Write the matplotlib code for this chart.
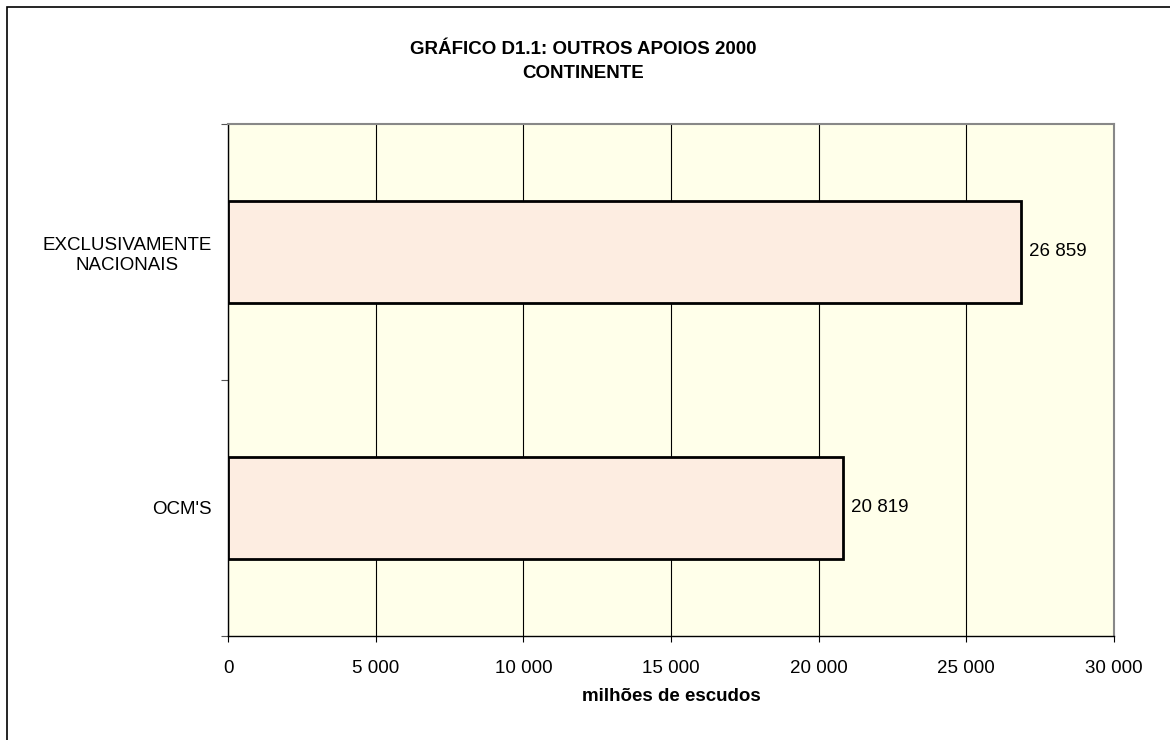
import matplotlib.pyplot as plt
from matplotlib.patches import Rectangle
from matplotlib.ticker import FuncFormatter, FixedLocator

plt.rcParams['font.family'] = ['Liberation Sans', 'DejaVu Sans']

categories = ["OCM'S", "EXCLUSIVAMENTE\nNACIONAIS"]
values = [20819, 26859]
xticks = [0, 5000, 10000, 15000, 20000, 25000, 30000]

FS = 13.5

fig = plt.figure(figsize=(11.7, 7.4), dpi=100)
ax = fig.add_axes([228 / 1170, 1 - 636 / 740, 886 / 1170, 512 / 740])

# chart frame around the whole figure (only top/left edges fall inside)
fig.patches.append(Rectangle((7 / 1170, -0.1), 1.2, (733 / 740) + 0.1,
                             transform=fig.transFigure, fill=False,
                             edgecolor='black', linewidth=1.2))

ax.set_facecolor('#FFFFEA')
ypos = list(range(len(categories)))
ax.barh(ypos, values, height=0.4, color='#FDEDE1', edgecolor='black',
        linewidth=2.0, zorder=3)

for y, v in zip(ypos, values):
    ax.text(v + 260, y, f"{v:,}".replace(",", " "), va='center', ha='left',
            fontsize=FS, zorder=4)

ax.set_xlim(0, 30000)
ax.set_ylim(-0.5, 1.5)
ax.set_xticks(xticks)
ax.xaxis.set_major_formatter(FuncFormatter(lambda v, p: f"{int(v):,}".replace(",", " ")))
ax.grid(axis='x', color='black', linewidth=0.8, zorder=1)

ax.yaxis.set_major_locator(FixedLocator([-0.5, 0.5, 1.5]))
ax.yaxis.set_minor_locator(FixedLocator(ypos))
ax.set_yticklabels([])
ax.set_yticklabels(categories, minor=True, ha='right', multialignment='center',
                   linespacing=1.2)
ax.tick_params(axis='y', which='minor', length=0, pad=11.5, labelsize=FS)
ax.tick_params(axis='y', which='major', length=5, color='#555555', direction='out')
ax.tick_params(axis='x', length=4.3, direction='out', pad=13, labelsize=FS)

for side in ('top', 'right'):
    ax.spines[side].set_color('#888888')
    ax.spines[side].set_linewidth(1.5)
for side in ('left', 'bottom'):
    ax.spines[side].set_color('black')
    ax.spines[side].set_linewidth(1.0)

ax.set_xlabel("milhões de escudos", fontweight='bold', fontsize=FS, labelpad=8)
fig.text(0.4985, 1 - 49 / 740, "GRÁFICO D1.1: OUTROS APOIOS 2000", ha='center',
         va='center', fontweight='bold', fontsize=FS)
fig.text(0.4985, 1 - 74 / 740, "CONTINENTE", ha='center', va='center',
         fontweight='bold', fontsize=FS)

fig.savefig("out.png", dpi=100)
